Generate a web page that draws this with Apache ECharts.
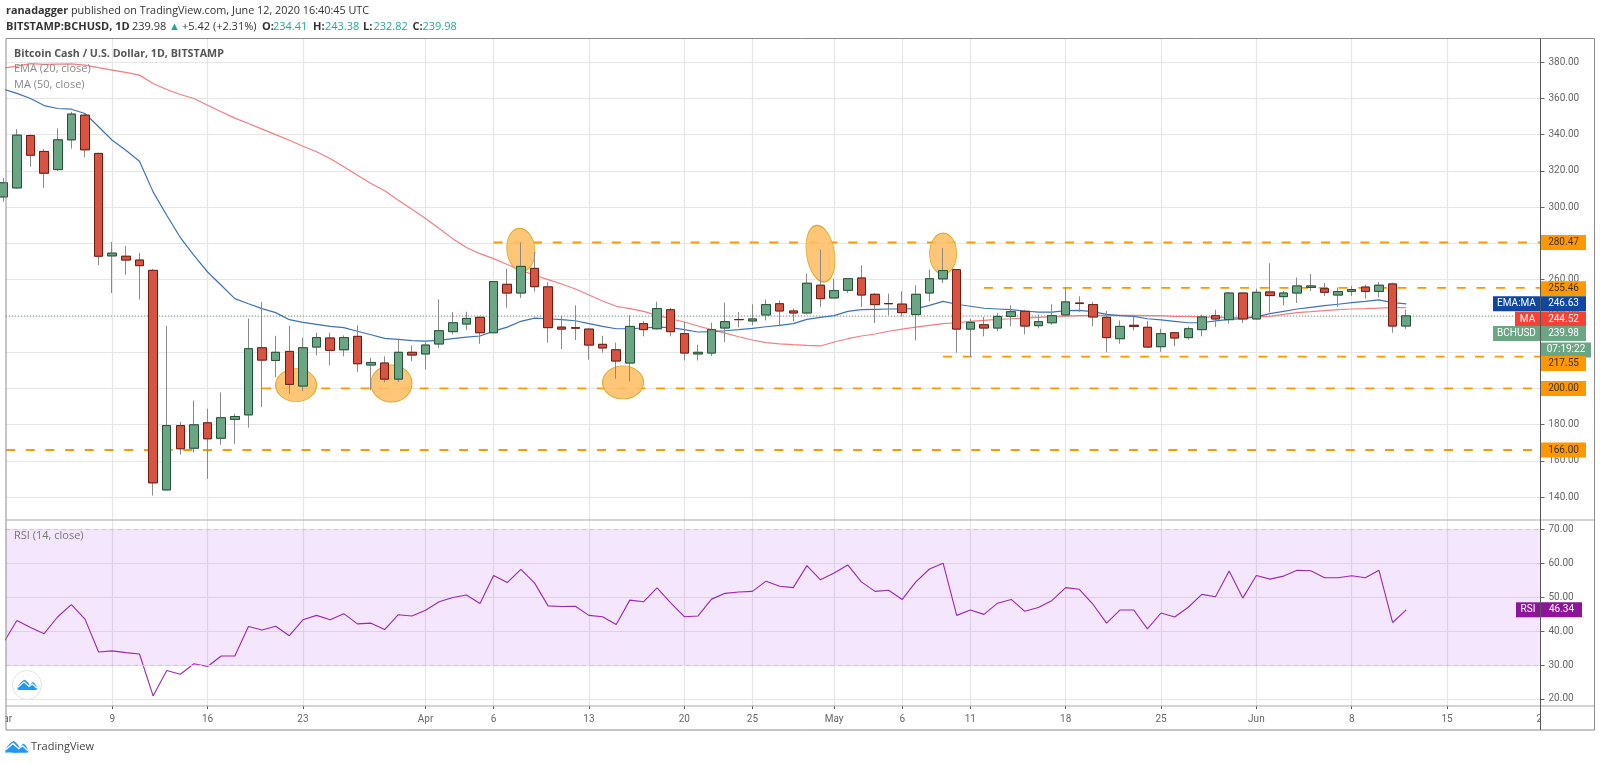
<!DOCTYPE html>
<html><head><meta charset="utf-8">
<style>html,body{margin:0;padding:0;background:#fff}#c{width:1600px;height:763px}</style>
<script src="https://cdn.jsdelivr.net/npm/echarts@6/dist/echarts.min.js"></script>
</head><body><div id="c"></div>
<script>
const opens=[305.6,310.6,339.5,330.7,320.7,337.1,350.7,329.6,273.1,272.9,270.8,265.1,144,179.5,167,181,172.5,182.9,185.4,222.4,215.4,220.4,201.3,222.8,227.8,221.3,228.7,212.9,214,205.1,219.9,219,224.5,231.3,235.5,239.2,230.7,257.4,252.6,266.2,256,233.8,233.5,232.7,224.3,221.3,214,235.7,232.9,243.4,230.2,219,219.5,233.3,238,237.2,240.5,246.7,242.7,241.6,256.9,249.9,254.1,260.9,251.9,246.8,246.5,240.7,252.6,260.4,265.5,232.7,235.1,233.3,239.7,242.5,234.6,236.2,240.5,247.1,246.2,239.2,227.4,234.8,233.7,223,230.7,228,232.4,240.1,237.9,252.6,238.3,253.2,250.6,252.6,255.7,255,251.5,253.5,255.9,253.5,257.6,234.41];
const closes=[313.4,339.7,328.6,318.7,337.1,351.3,331.6,272.9,274.6,270.8,267.7,147.9,179.5,166.7,179.9,172.2,183.8,184.5,221.9,215.6,219.9,202.2,222.4,228,221,228,213.6,214.3,205.1,219.9,218.4,223.9,231.8,236.2,238.6,230.7,258.9,252.6,267.3,256.1,233.5,232.7,233.2,223.9,222.3,215.1,234.2,232.4,244,231.3,219.5,219.9,232.4,236.8,237.9,238.3,246.2,242.7,241.6,258,249.5,253.9,260.5,251.5,246.2,246.7,241.8,251.9,260.5,265,232.7,236.4,233.3,239.7,242.3,234.4,236.8,240.1,247.7,246.8,239.4,228,234.2,234.2,222.8,230.2,227.8,232.9,239.4,238.3,252.6,238.3,253,251.2,252.6,256.5,256.5,253,253.4,254.5,253.5,256.9,234.4,239.98];
const lows=[303,310,322.2,310.6,320,332.3,327.5,268,252.6,262.7,249,140.9,143.6,163.5,164.8,150.1,168.9,169.4,178.3,189.7,206.2,197,198.5,218.2,212.7,217.7,209,198.9,203.3,203.5,214.9,210.5,222.2,229.8,232.2,224.6,230.7,244.5,249.9,253.4,225.2,221.7,226.7,215.8,219.7,205.3,203.8,228.7,232.4,228.7,215.4,215.4,217.8,225.6,233.7,234.8,237.5,234.2,237,240.8,244.9,249.9,252.6,244.9,236.1,240.3,239.7,226.5,248,258.1,219.7,217.3,228.7,231.6,234.2,229.8,233.1,235.1,240.5,242.1,234.2,219.9,224.6,232,222.2,220.2,223.3,226.9,228.7,233.8,235.7,236.1,237.9,241.9,245.8,247.1,253.7,251,244.9,251,249.5,250.4,230.7,232.82];
const highs=[316,343,340,332,343.4,352.6,351.6,330,280.8,278.4,274.7,266,234.4,181.4,193.3,188.8,197.8,186,238.5,247.6,229,234.4,228,230.7,230.7,229.2,234.8,216.9,217.7,227.4,223.7,225.6,249.1,242.1,242.3,239.7,258.9,266,280.4,275.3,258.5,240.1,245.8,233,229,225.2,240.3,237,247.8,244.5,236.6,224.1,236.2,247.3,242.1,246.4,249.1,248.5,244,263.3,276.6,260.5,260.9,267.9,252.6,252.3,253.5,256.9,265.5,277.5,265.5,238.4,239.4,241.6,245.8,243.4,240.8,246.4,255.6,250.8,247.7,242.7,237.5,239.7,237.2,232.9,230.9,234.2,240.7,243.4,253.2,253,255,269,253.7,261.1,263.1,258.1,255.6,256.5,257.2,258.7,258.3,243.38];
const ema20=[365.1,362.7,359.9,356,354.4,354,351.6,344.3,336.9,331.4,325.3,308.4,295.5,283.2,273.4,264.2,256.9,249.5,246.7,244,241.8,237.9,236.4,235.3,234.2,233.5,231.5,229.6,227.6,227,226.3,226.1,226.5,227.4,228.3,228.9,231.6,233.8,237,238.8,238.4,237.9,237.3,235.7,234.2,232.9,232.9,233.3,233.8,233.5,232.4,231.1,231.3,231.8,232.4,233.1,234,234.8,235.7,238.1,239.2,240.1,242.5,243.4,243.6,243.8,243.8,244,245.8,248,246.4,245.3,244.2,243.8,243.4,242.7,242.1,242.1,242.9,243,242.3,240.8,240.1,239.7,238.4,237.8,237,236.2,236.2,237.2,238.1,238.5,239.4,241.2,242.5,243.8,244.7,245.6,246.4,247.3,248,248.8,247.3,246.63];
const ma50=[376.7,377.8,379.1,378.7,378.9,379,378.3,376.9,375.6,374.3,372.8,368.2,364.9,362.1,359.9,356.2,352.6,349.1,346.1,343,340,336.9,333.6,330.5,326.8,322.2,317.6,313,309,303.8,298.8,293.7,288.2,282.6,277.7,274.3,271.6,268.3,265.1,262.4,260,257.6,254.8,251.5,248.2,245.3,244,242.5,240.3,238.4,236.6,234.4,232.4,230.5,228.5,226.7,225.2,224.6,224.1,223.7,223.4,225.6,227.4,228.9,230,231.5,232.7,233.8,234.8,235.7,236.2,237,237.5,238.1,238.4,238.8,239.2,239.6,239.9,240.1,240.3,240.3,240.3,240.3,240.1,240.1,239.7,239.7,239.4,239.2,239,239,239.4,239.7,240.8,241.8,242.3,242.9,243.4,243.8,244,244.3,244.5,244.52];
const rsi14=[36.5,43.2,41.1,39.3,44.3,47.9,43.6,33.9,34.2,33.7,33.3,20.9,28.4,27.3,30.4,29.6,32.7,32.7,41.4,40.4,41.5,38.7,43.4,44.7,43.4,45.2,42.2,42.4,40.5,44.9,44.5,46.2,48.7,50,50.7,48.2,56.5,54.4,58.3,54.3,47.5,47.3,47.4,44.7,44.3,42,49.2,48.7,52.8,48.4,44.3,44.5,49.5,51.2,51.6,51.8,54.8,53.3,52.9,59.4,55.2,57.2,59.6,54.6,51.8,52.1,49.4,54.6,58.4,60.1,44.7,46.3,45,48.3,49.4,45.9,47,49.1,52.9,52.4,48,42.4,46.3,46.3,40.7,45.4,44.2,47.1,50.9,50.2,57.8,49.8,56.5,55.4,56.3,58,57.9,55.8,55.8,56.4,55.8,58,42.6,46.34];

const tickDays=[8,15,22,31,36,43,50,55,61,66,71,78,85,92,99,106];
const tickLabels=['9','16','23','Apr','6','13','20','25','May','6','11','18','25','Jun','8','15'];
const priceTicks=[140,160,180,200,220,240,260,280,300,320,340,360,380];
const rsiTicks=[20,30,40,50,60,70];
const levelPrices=[280.47,255.46,217.55,200,166];
const levelStartDays=[36,72,69,19,0.2];
const ellipseDays=[21.5,28.5,38,45.5,60,69];
const ellipsePrices=[201.8,202.7,276.5,203.3,274.3,274.3];
const ellipseWidths=[41,41,28,41,28,27];
const ellipseHeights=[33,37,43,33,57,41];
const ellipseTilts=[0,0,6,0,9,0];
const lastPrice=239.98, lastEma=246.63, lastMa=244.52, lastRsi=46.34;

const xMin=0.2,xMax=112.86;
const FONT='"Open Sans",sans-serif';
const AXFONT='Roboto,sans-serif';
const days=opens.map((_,i)=>i);
const xBase={type:'value',min:xMin,max:xMax,
  axisLine:{show:false},
  splitLine:{show:true,lineStyle:{color:'#e6e6e6',width:1.2}}};

function tag(price,text,side,bg,w,fg,dy){
  return {value:[xMax,price],label:{show:true,position:side,distance:0,formatter:text,
    backgroundColor:bg,color:fg,width:w,height:15,lineHeight:15,align:'center',verticalAlign:'middle',
    fontFamily:AXFONT,fontSize:10,offset:[side==='right'?w/2:-w/2,dy||0]}};
}
const tagData=[
  tag(280.47,'280.47','right','#ff9800',45,'#333',0),
  tag(255.46,'255.46','right','#ff9800',45,'#333',1),
  tag(lastEma,lastEma.toFixed(2),'right','#0d47a1',45,'#fff',0),
  tag(lastEma,'EMA:MA','left','#0d47a1',47,'#fff',0),
  tag(lastMa,lastMa.toFixed(2),'right','#f44336',45,'#fff',11.4),
  tag(lastMa,'MA','left','#f44336',25,'#fff',11.4),
  tag(lastPrice,lastPrice.toFixed(2),'right','#6ba583',45,'#fff',17.6),
  tag(lastPrice,'BCHUSD','left','#6ba583',47,'#fff',17.6),
  tag(lastPrice,'07:19:22','right','#6ba583',50,'#fff',34),
  tag(217.55,'217.55','right','#ff9800',45,'#333',7),
  tag(200,'200.00','right','#ff9800',45,'#333',0),
  tag(166,'166.00','right','#ff9800',45,'#333',0)
];
const rsiTagData=[
  tag(lastRsi,lastRsi.toFixed(2),'right','#8e1599',41,'#fff',0),
  tag(lastRsi,'RSI','left','#8e1599',24,'#fff',0)
];

const levelSeries=levelPrices.map((p,k)=>({type:'line',xAxisIndex:0,yAxisIndex:0,symbol:'none',silent:true,z:4,
  data:[[levelStartDays[k],p],[xMax,p]],
  lineStyle:{color:'#ff9800',width:1.8,type:[9,10.7]}}));

function logo(x,y,s,z){
  const pts=[[0,13],[0,9],[4,4],[8,1],[12,4],[14.5,7.5],[17.5,4],[20,5],[23,10],[23,13]];
  const zig=[[0,10],[7.5,3.5],[13.5,9],[17.5,6],[23,11]];
  const m=a=>a.map(p=>[x+p[0]*s,y+p[1]*s]);
  return [
    {type:'polygon',z,shape:{points:m(pts),smooth:0.15},style:{fill:'#2196f3'}},
    {type:'polyline',z:z+1,shape:{points:m(zig)},style:{stroke:'#fff',lineWidth:1.4*s,fill:null}}
  ];
}
function txt(x,y,text,o){
  return {type:'text',x,y,z:o.z||210,style:Object.assign({text,fontFamily:FONT,fontSize:11,fill:'#444',verticalAlign:'middle'},o.style||{})};
}
function hline(x1,x2,y,color,w){return {type:'line',z:220,shape:{x1,y1:y,x2,y2:y},style:{stroke:color,lineWidth:w||1}};}
function vline(x,y1,y2,color,w){return {type:'line',z:220,shape:{x1:x,y1,x2:x,y2},style:{stroke:color,lineWidth:w||1}};}

const quoteSegs=[
  [6,'BITSTAMP:BCHUSD, 1D',true,'#333'],[132,'239.98',false,'#333'],[169,'▲',false,'#26a69a'],[182,'+5.42 (+2.31%)',false,'#333'],
  [262,'O:',true,'#333'],[273,'234.41',false,'#26a69a'],[313,'H:',true,'#333'],[325,'243.38',false,'#26a69a'],
  [363,'L:',true,'#333'],[373.5,'232.82',false,'#26a69a'],[412.5,'C:',true,'#333'],[422.5,'239.98',false,'#26a69a']
];

const graphics=[
  txt(6,11,'{b|ranadagger} published on TradingView.com, June 12, 2020 16:40:45 UTC',{style:{fontSize:10.85,fill:'#333',rich:{b:{fontWeight:'bold',fontFamily:FONT,fontSize:10.85,fill:'#333'}}}}),
  ...quoteSegs.map(s=>txt(s[0],26.5,s[1],{style:{fontSize:11,fontWeight:s[2]?'bold':'normal',fill:s[3]}})),
  txt(14,54,'Bitcoin Cash / U.S. Dollar, 1D, BITSTAMP',{style:{fontSize:10.7,fontWeight:'bold',fill:'#555'}}),
  txt(14,69,'EMA (20, close)',{style:{fontSize:11,fill:'#888'}}),
  txt(14,84.5,'MA (50, close)',{style:{fontSize:11,fill:'#888'}}),
  txt(14,535.5,'RSI (14, close)',{style:{fontSize:11,fill:'#777'}}),
  txt(31,747,'TradingView',{style:{fontSize:11,fill:'#444'}}),
  {type:'circle',z:205,shape:{cx:27,cy:685,r:14.5},style:{fill:'#fff',stroke:'#e2e2e2',lineWidth:1}},
  ...logo(17.8,679,0.83,206),
  ...logo(5.7,740,0.97,206),
  txt(3.3,719.5,'Mar',{z:100,style:{fontFamily:AXFONT,fontSize:10,fill:'#666',textAlign:'center'}}),
  txt(1542,719.5,'22',{z:100,style:{fontFamily:AXFONT,fontSize:10,fill:'#666',textAlign:'center'}}),
  {type:'rect',z:101,shape:{x:0,y:707,width:5.6,height:22},style:{fill:'#fff'}},
  {type:'rect',z:101,shape:{x:1541,y:707,width:52,height:22},style:{fill:'#fff'}},
  {type:'rect',z:220,shape:{x:6,y:38.5,width:1588.5,height:691.5},style:{fill:null,stroke:'#8c8c8c',lineWidth:1}},
  hline(6,1594,520,'#a9a9a9',1.2),
  hline(6,1594,706,'#a9a9a9',1.2),
  vline(1540.5,38.5,730,'#555',1)
];

const option={
  animation:false,backgroundColor:'#fff',
  textStyle:{fontFamily:FONT},
  grid:[
    {left:6,width:1534.5,top:38.5,height:481.5,show:false},
    {left:6,width:1534.5,top:520,height:186,show:false}
  ],
  xAxis:[
    Object.assign({},xBase,{gridIndex:0,axisTick:{show:false,customValues:tickDays},axisLabel:{show:false,customValues:tickDays}}),
    Object.assign({},xBase,{gridIndex:1,
      axisTick:{show:true,length:3,lineStyle:{color:'#555'},customValues:tickDays},
      axisLabel:{show:true,customValues:tickDays,color:'#666',fontSize:10,margin:8,fontFamily:AXFONT,hideOverlap:false,showMinLabel:true,showMaxLabel:true,
        formatter:v=>tickLabels[tickDays.indexOf(v)]}})
  ],
  yAxis:[
    {type:'value',gridIndex:0,position:'right',min:127.4,max:393,
     axisLine:{show:false},
     axisTick:{show:true,length:4,lineStyle:{color:'#666'},customValues:priceTicks},
     axisLabel:{show:true,customValues:priceTicks,margin:8,color:'#666',fontSize:10,fontFamily:AXFONT,formatter:v=>v.toFixed(2)},
     splitLine:{show:true,lineStyle:{color:'#e6e6e6',width:1.2}}},
    {type:'value',gridIndex:1,position:'right',min:17.93,max:72.87,
     axisLine:{show:false},
     axisTick:{show:true,length:4,lineStyle:{color:'#666'},customValues:rsiTicks},
     axisLabel:{show:true,customValues:rsiTicks,margin:8,color:'#666',fontSize:10,fontFamily:AXFONT,formatter:v=>v.toFixed(2)},
     splitLine:{show:true,lineStyle:{color:'#e6e6e6',width:1.2}}}
  ],
  series:[
    {type:'line',name:'Last',xAxisIndex:0,yAxisIndex:0,symbol:'none',silent:true,z:3,
     data:[[xMin,lastPrice],[xMax,lastPrice]],lineStyle:{color:'#6ba583',width:1,type:[1,2]}},
    {type:'line',name:'MA',xAxisIndex:0,yAxisIndex:0,symbol:'none',z:3,
     data:days.map(i=>[i,ma50[i]]),lineStyle:{color:'#f77c80',width:1.2}},
    {type:'line',name:'EMA',xAxisIndex:0,yAxisIndex:0,symbol:'none',z:3,
     data:days.map(i=>[i,ema20[i]]),lineStyle:{color:'#3d72bb',width:1.2}},
    ...levelSeries,
    {type:'scatter',name:'Marks',xAxisIndex:0,yAxisIndex:0,silent:true,z:5,
     data:ellipseDays.map((d,k)=>({value:[d,ellipsePrices[k]],symbolSize:[ellipseWidths[k],ellipseHeights[k]],symbolRotate:ellipseTilts[k]})),
     symbol:'circle',itemStyle:{opacity:1,color:'rgba(255,190,100,0.88)',borderColor:'#d9ab2c',borderWidth:1}},
    {type:'candlestick',name:'Wicks',xAxisIndex:0,yAxisIndex:0,z:6,barWidth:9,
     data:days.map(i=>[i,opens[i],closes[i],lows[i],highs[i]]),
     itemStyle:{color:'#8a8a8a',color0:'#8a8a8a',borderColor:'#8a8a8a',borderColor0:'#8a8a8a',borderColorDoji:'#8a8a8a',borderWidth:1}},
    {type:'candlestick',name:'Bodies',xAxisIndex:0,yAxisIndex:0,z:7,barWidth:9,
     data:days.map(i=>[i,opens[i],closes[i],Math.min(opens[i],closes[i]),Math.max(opens[i],closes[i])]),
     itemStyle:{color:'#6ba583',color0:'#d75442',borderColor:'#225437',borderColor0:'#6f1c11',borderWidth:1}},
    {type:'scatter',name:'PriceTags',xAxisIndex:0,yAxisIndex:0,z:100,silent:true,clip:false,symbolSize:1,
     itemStyle:{opacity:1,color:'transparent'},data:tagData},
    {type:'line',name:'RSI',xAxisIndex:1,yAxisIndex:1,symbol:'none',z:3,
     data:days.map(i=>[i,rsi14[i]]),lineStyle:{color:'#9c27b0',width:1.1},
     markArea:{silent:true,itemStyle:{opacity:1,color:'rgba(165,60,240,0.13)'},data:[[{yAxis:30},{yAxis:70}]]},
     markLine:{silent:true,symbol:'none',label:{show:false},lineStyle:{color:'#d4c6da',type:[4,4],width:1.2},data:[{yAxis:30},{yAxis:70}]}},
    {type:'scatter',name:'RsiTags',xAxisIndex:1,yAxisIndex:1,z:100,silent:true,clip:false,symbolSize:1,
     itemStyle:{opacity:1,color:'transparent'},data:rsiTagData}
  ],
  graphic:{elements:graphics}
};
echarts.init(document.getElementById('c'),null,{renderer:'canvas'}).setOption(option);
</script></body></html>
